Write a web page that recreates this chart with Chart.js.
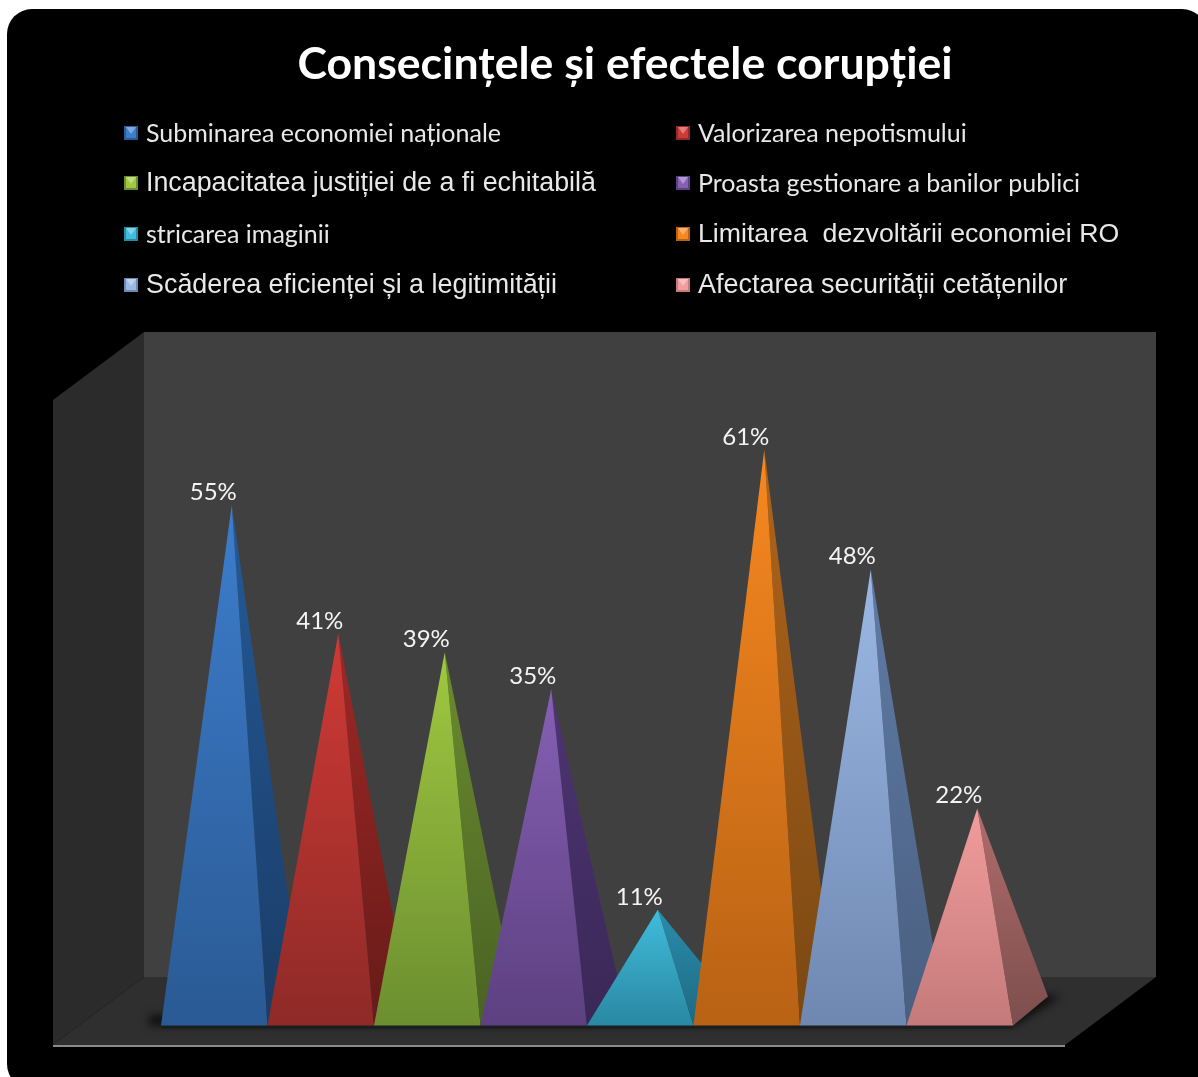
<!DOCTYPE html>
<html>
<head>
<meta charset="utf-8">
<title>Consecințele și efectele corupției</title>
<script src="https://cdn.jsdelivr.net/npm/chart.js@4"></script>
<style>
  html, body { margin: 0; padding: 0; background: #fff; overflow: hidden; }
  canvas { display: block; }
</style>
</head>
<body>
<canvas id="mychart" width="1198" height="1077"></canvas>
<script>
const titleText = "Consecințele și efectele corupției";
const categories = [
  "Subminarea economiei naționale",
  "Valorizarea nepotismului",
  "Incapacitatea justiției de a fi echitabilă",
  "Proasta gestionare a banilor publici",
  "stricarea imaginii",
  "Limitarea  dezvoltării economiei RO",
  "Scăderea eficienței și a legitimității",
  "Afectarea securității cetățenilor"
];
const values = [55, 41, 39, 35, 11, 61, 48, 22];

// face colours, top to bottom
const frontTop = ['#3d7dcc', '#d03a36', '#a0c840', '#8660b4', '#40bcdc', '#f78820', '#9bb8e4', '#f29c9c'];
const frontBottom = ['#2a5a94', '#8e2a27', '#6c8e30', '#5c4080', '#2a88a2', '#b86214', '#6f88b2', '#c47a7a'];
const sideTop = ['#245a98', '#a02825', '#6a8c2e', '#4e3474', '#2a8cac', '#b0641a', '#5f7ba6', '#b06c6c'];
const sideBottom = ['#1a3c66', '#661b19', '#4a6224', '#3a2856', '#1d6a82', '#7a4813', '#4a5f80', '#7c4e4d'];

// legend layout
const calibri = 'Lato, "Open Sans", sans-serif';
const arial = '"Liberation Sans", Arial, sans-serif';
const legendX = [124, 676];
const legendY = [133, 183, 234, 285];
const legendFonts = [
  '25px ' + calibri, '25px ' + calibri,
  '26.8px ' + arial, '25px ' + calibri,
  '25px ' + calibri, '26.7px ' + arial,
  '26.9px ' + arial, '27px ' + arial
];

const depthX = 35, depthY = 29;

const pyramidPlugin = {
  id: 'pyramids',
  beforeDraw(chart) {
    const ctx = chart.ctx;
    const area = chart.chartArea;
    ctx.save();
    // panel
    ctx.fillStyle = '#fff';
    ctx.fillRect(0, 0, chart.width, chart.height);
    ctx.fillStyle = '#000';
    ctx.beginPath();
    ctx.roundRect(7, 9, 1200, 1080, 25);
    ctx.fill();
    // back wall
    ctx.fillStyle = '#404040';
    ctx.fillRect(144, 332, 1012, 645);
    // left wall
    ctx.fillStyle = '#2b2b2b';
    ctx.beginPath();
    ctx.moveTo(53, 400); ctx.lineTo(144, 332); ctx.lineTo(144, 977); ctx.lineTo(53, 1045);
    ctx.closePath();
    ctx.fill();
    // floor
    ctx.fillStyle = '#2f2f2f';
    ctx.beginPath();
    ctx.moveTo(144, 977); ctx.lineTo(1156, 977); ctx.lineTo(1065, 1045); ctx.lineTo(53, 1045);
    ctx.closePath();
    ctx.fill();
    ctx.fillStyle = '#8a8a8a';
    ctx.fillRect(53, 1045, 1012, 2);
    // shadow under the pyramids
    const floorY = area.bottom + depthY / 2;
    ctx.save();
    ctx.beginPath();
    ctx.moveTo(144, 977); ctx.lineTo(1156, 977); ctx.lineTo(1065, 1045); ctx.lineTo(53, 1045);
    ctx.closePath();
    ctx.clip();
    ctx.filter = 'blur(4px)';
    ctx.fillStyle = 'rgba(0,0,0,0.7)';
    ctx.beginPath();
    ctx.moveTo(area.left - 12, floorY);
    ctx.lineTo(area.right + 2, floorY);
    ctx.lineTo(area.right + 48, floorY - 29);
    ctx.lineTo(area.right + 20, floorY - 32);
    ctx.lineTo(area.left - 12, floorY - 10);
    ctx.closePath();
    ctx.fill();
    ctx.restore();
    ctx.fillStyle = '#1a1e1e';
    ctx.fillRect(area.left, floorY, area.right - area.left, 3);
    // title
    ctx.fillStyle = '#fff';
    ctx.textBaseline = 'middle';
    ctx.textAlign = 'center';
    ctx.font = 'bold 44.6px ' + calibri;
    ctx.fillText(titleText, 625, 65);
    // legend
    ctx.textAlign = 'left';
    categories.forEach((name, i) => {
      const x = legendX[i % 2];
      const y = legendY[Math.floor(i / 2)];
      swatch(ctx, x, y - 7, 14, i);
      ctx.fillStyle = '#e8e8e8';
      ctx.font = legendFonts[i];
      ctx.fillText(name, 146 + (i % 2) * 552, y + 1);
    });
    ctx.restore();
  },
  afterDatasetsDraw(chart) {
    const ctx = chart.ctx;
    const bars = chart.getDatasetMeta(0).data;
    ctx.save();
    bars.forEach((bar, i) => {
      const half = bar.width / 2;
      const frontY = bar.base + depthY / 2;
      const left = bar.x - half, right = bar.x + half;
      const tipX = bar.x + depthX / 2;
      const tipY = bar.y;
      // side face
      let grad = ctx.createLinearGradient(0, tipY, 0, frontY);
      grad.addColorStop(0, sideTop[i]);
      grad.addColorStop(1, sideBottom[i]);
      ctx.fillStyle = grad;
      ctx.beginPath();
      ctx.moveTo(tipX, tipY);
      ctx.lineTo(right + depthX, frontY - depthY);
      ctx.lineTo(right, frontY);
      ctx.closePath();
      ctx.fill();
      // front face
      grad = ctx.createLinearGradient(0, tipY, 0, frontY);
      grad.addColorStop(0, frontTop[i]);
      grad.addColorStop(1, frontBottom[i]);
      ctx.fillStyle = grad;
      ctx.beginPath();
      ctx.moveTo(tipX, tipY);
      ctx.lineTo(right, frontY);
      ctx.lineTo(left, frontY);
      ctx.closePath();
      ctx.fill();
    });
    // value labels go on top of everything
    ctx.fillStyle = '#f4f4f4';
    ctx.textAlign = 'center';
    ctx.textBaseline = 'middle';
    ctx.font = '24px ' + calibri;
    bars.forEach((bar, i) => {
      ctx.fillText(values[i] + '%', bar.x - 1, bar.y - 13);
    });
    ctx.restore();
  }
};

// little bevelled square used in the legend
function swatch(ctx, x, y, s, i) {
  const m = s / 2;
  ctx.save();
  ctx.filter = 'blur(0.5px)';
  ctx.fillStyle = frontBottom[i];
  ctx.fillRect(x, y, s, s);
  ctx.fillStyle = frontTop[i];
  ctx.beginPath();
  ctx.moveTo(x + 2, y + 1); ctx.lineTo(x + s - 2, y + 1); ctx.lineTo(x + s - 2, y + s - 2); ctx.lineTo(x + 2, y + s - 2);
  ctx.closePath();
  ctx.fill();
  ctx.fillStyle = 'rgba(255,255,255,0.35)';
  ctx.beginPath();
  ctx.moveTo(x + 2, y + 1); ctx.lineTo(x + s - 2, y + 1); ctx.lineTo(x + m, y + m + 1);
  ctx.closePath();
  ctx.fill();
  ctx.restore();
}

const myChart = new Chart(document.getElementById('mychart').getContext('2d'), {
  type: 'bar',
  data: {
    labels: categories,
    datasets: [{
      label: 'Consecințe',
      data: values,
      backgroundColor: 'rgba(0,0,0,0)',
      barPercentage: 1,
      categoryPercentage: 1
    }]
  },
  options: {
    responsive: false,
    animation: false,
    devicePixelRatio: 1,
    layout: { padding: { left: 161, right: 185, top: 367, bottom: 66 } },
    plugins: { legend: { display: false }, title: { display: false }, tooltip: { enabled: false } },
    scales: {
      x: { display: false },
      y: { display: false, min: 0, max: 70 }
    }
  },
  plugins: [pyramidPlugin]
});
</script>
</body>
</html>
